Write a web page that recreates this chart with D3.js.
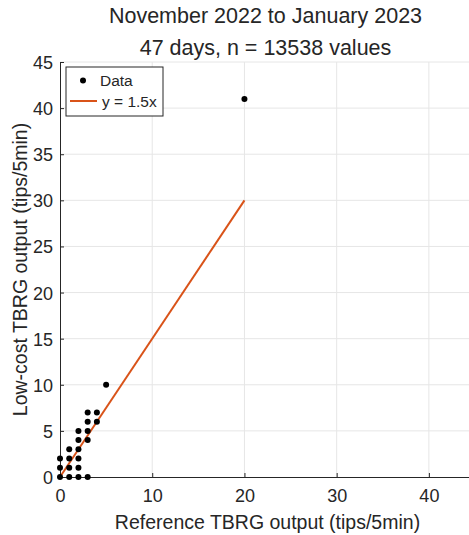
<!DOCTYPE html>
<html>
<head>
<meta charset="utf-8">
<script src="https://cdn.jsdelivr.net/npm/d3@7"></script>
<style>
  body { margin: 0; background: #fff; }
  text { font-family: "Liberation Sans", Arial, sans-serif; fill: #262626; }
</style>
</head>
<body>
<div id="chart"></div>
<script>
// reference gauge (x) vs low-cost gauge (y), tips per 5 min
const refTips = [0, 1, 2, 3, 0, 1, 2, 0, 1, 2, 1, 2, 2, 3, 2, 3, 3, 4, 3, 4, 5, 20];
const lowTips = [0, 0, 0, 0, 1, 1, 1, 2, 2, 2, 3, 3, 4, 4, 5, 5, 6, 6, 7, 7, 10, 41];
const fitX = [0, 20];
const SLOPE = 1.5;
const xTicks = [0, 10, 20, 30, 40];
const yTicks = [0, 5, 10, 15, 20, 25, 30, 35, 40, 45];
const titleLines = ["November 2022 to January 2023", "47 days, n = 13538 values"];

var width = 469, height = 535;
var margin = {top: 62, right: -6, bottom: 58, left: 60};

var svg = d3.select("#chart").append("svg")
  .attr("width", width)
  .attr("height", height);

var x = d3.scaleLinear().domain([0, 45]).range([margin.left, width - margin.right]);
var y = d3.scaleLinear().domain([0, 45]).range([height - margin.bottom, margin.top]);

// grid
svg.append("g").selectAll("line")
  .data(yTicks.slice(1))
  .enter().append("line")
  .attr("x1", x(0)).attr("x2", x(45))
  .attr("y1", d => y(d)).attr("y2", d => y(d))
  .attr("stroke", "#e6e6e6").attr("stroke-width", 1);

svg.append("g").selectAll("line")
  .data(xTicks.slice(1))
  .enter().append("line")
  .attr("x1", d => x(d)).attr("x2", d => x(d))
  .attr("y1", y(0)).attr("y2", y(45))
  .attr("stroke", "#e6e6e6").attr("stroke-width", 1);

// axes (ticks point inward like matlab)
var xAxis = svg.append("g")
  .attr("transform", "translate(0," + y(0) + ")")
  .call(d3.axisBottom(x).tickValues(xTicks).tickSizeInner(-4).tickSizeOuter(0).tickPadding(12));
var yAxis = svg.append("g")
  .attr("transform", "translate(" + x(0) + ",0)")
  .call(d3.axisLeft(y).tickValues(yTicks).tickSizeInner(-4).tickSizeOuter(0).tickPadding(7));

[xAxis, yAxis].forEach(function(a) {
  a.select(".domain").attr("stroke", "#262626");
  a.selectAll(".tick line").attr("stroke", "#262626");
  a.selectAll(".tick text")
    .style("font-family", '"Liberation Sans", Arial, sans-serif')
    .style("font-size", "18px")
    .attr("fill", "#262626");
});
yAxis.selectAll(".tick text").attr("dy", "0.36em");

// fit line
svg.append("path")
  .datum(fitX)
  .attr("fill", "none")
  .attr("stroke", "#D95319")
  .attr("stroke-width", 2)
  .attr("d", d3.line().x(d => x(d)).y(d => y(SLOPE * d)));

// data points
svg.append("g").selectAll("circle")
  .data(refTips)
  .enter().append("circle")
  .attr("cx", d => x(d))
  .attr("cy", (d, i) => y(lowTips[i]))
  .attr("r", 3)
  .attr("fill", "#000");

// titles & labels
svg.selectAll(".title")
  .data(titleLines)
  .enter().append("text")
  .attr("class", "title")
  .attr("x", (x(0) + x(45)) / 2 - 2)
  .attr("y", (d, i) => 23 + i * 32)
  .attr("text-anchor", "middle")
  .style("font-size", "21.5px")
  .text(d => d);

svg.append("text")
  .attr("x", (x(0) + x(45)) / 2)
  .attr("y", 529)
  .attr("text-anchor", "middle")
  .style("font-size", "19.5px")
  .text("Reference TBRG output (tips/5min)");

svg.append("text")
  .attr("transform", "translate(27," + (y(0) + y(45)) / 2 + ") rotate(-90)")
  .attr("text-anchor", "middle")
  .style("font-size", "19.5px")
  .text("Low-cost TBRG output (tips/5min)");

// legend
var legend = svg.append("g").attr("transform", "translate(66,67)");
legend.append("rect")
  .attr("width", 97).attr("height", 49)
  .attr("fill", "#fff").attr("stroke", "#262626").attr("stroke-width", 1);
legend.append("circle")
  .attr("cx", 17).attr("cy", 13.5).attr("r", 3).attr("fill", "#000");
legend.append("text")
  .attr("x", 34).attr("y", 19).style("font-size", "15.5px").text("Data");
legend.append("line")
  .attr("x1", 4).attr("x2", 31).attr("y1", 34).attr("y2", 34)
  .attr("stroke", "#D95319").attr("stroke-width", 2);
legend.append("text")
  .attr("x", 36).attr("y", 40).style("font-size", "15.5px").text("y = 1.5x");
</script>
</body>
</html>
